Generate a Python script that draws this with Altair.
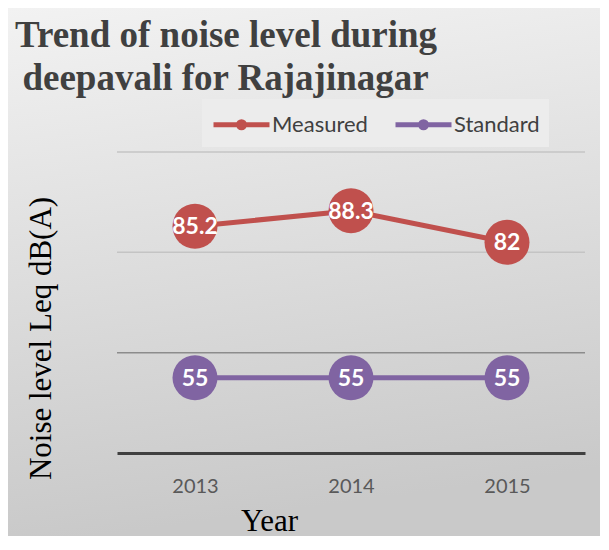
import altair as alt
import pandas as pd

years = ["2013", "2014", "2015"]
measured = [85.2, 88.3, 82]
standard = [55, 55, 55]
series_names = ["Measured", "Standard"]
series_colors = ["#C0504D", "#8064A2"]
gridlines = [60, 80, 100]

rows = []
for y, m, s in zip(years, measured, standard):
    rows.append({"Year": y, "series": "Measured", "value": m})
    rows.append({"Year": y, "series": "Standard", "value": s})
df = pd.DataFrame(rows)
grid_df = pd.DataFrame({"value": gridlines})

W, H = 468, 301
PAD = {"left": 109, "top": 144, "right": 15, "bottom": 83}

x_enc = alt.X("Year:O", scale=alt.Scale(type="point", padding=0.5),
              axis=alt.Axis(title="Year", labelAngle=0, ticks=False, grid=False,
                            domainColor="#404040", domainWidth=3,
                            labelFont="Lato", labelFontSize=20, labelColor="#595959",
                            labelBaseline="alphabetic", labelPadding=39,
                            titleFont="Liberation Serif", titleFontSize=31,
                            titleFontWeight="normal", titleColor="#000000",
                            titleBaseline="alphabetic", titleAlign="center",
                            titleX=152, titleY=77, zindex=1))
y_scale = alt.Scale(domain=[40, 100], nice=False, zero=False)
y_enc = alt.Y("value:Q", scale=y_scale,
              axis=alt.Axis(title="Noise level Leq dB(A)", labels=False, ticks=False,
                            domain=False, grid=False,
                            titleFont="Liberation Serif", titleFontSize=31,
                            titleFontWeight="normal", titleColor="#000000",
                            titleAngle=270, titleBaseline="alphabetic",
                            titleAlign="center", titleX=-67, titleY=186, zindex=1))

# line through a small ring (stroke-only legend symbol)
sym_path = "M-1,0H3M1.214,0A0.214,0.214,0,1,1,0.786,0A0.214,0.214,0,1,1,1.214,0"
color_scale = alt.Scale(domain=series_names, range=series_colors)
legend = alt.Legend(orient="none", legendX=85, legendY=-53, direction="horizontal",
                    title=None, fillColor="#ececec", padding=9,
                    symbolType=sym_path, symbolSize=784, symbolStrokeWidth=5,
                    symbolOpacity=1,
                    labelFont="Lato", labelFontSize=22, labelColor="#404040",
                    labelOffset=28, columnPadding=17, zindex=1)

bg = alt.Chart(alt.Data(values=[{}])).mark_rect(
    color=alt.Gradient(gradient="linear", x1=0, y1=0, x2=0.15, y2=1,
                       stops=[alt.GradientStop(offset=0, color="#f2f2f2"),
                              alt.GradientStop(offset=1, color="#c9c9c9")])
).encode(x=alt.value(-PAD["left"]), x2=alt.value(W + PAD["right"]),
         y=alt.value(-PAD["top"]), y2=alt.value(H + PAD["bottom"]))

grid = alt.Chart(grid_df).mark_rule(strokeWidth=1.5).encode(
    y=alt.Y("value:Q", scale=y_scale),
    color=alt.condition(alt.datum.value == 60, alt.value("#8c8c8c"), alt.value("#c4c4c4")),
)

base = alt.Chart(df)
lines = base.mark_line(strokeWidth=5).encode(
    x=x_enc, y=y_enc,
    color=alt.Color("series:N", scale=color_scale, legend=legend),
)
points = base.mark_circle(size=2025, opacity=1).encode(
    x=x_enc, y=y_enc,
    color=alt.Color("series:N", scale=color_scale, legend=None),
)
labels = base.mark_text(font="Lato", fontSize=23, fontWeight="bold", color="white",
                        align="center", baseline="middle", dy=1).encode(
    x=x_enc, y=y_enc, text=alt.Text("value:Q", format="")
)

chart = alt.layer(bg, grid, lines, points, labels).properties(
    width=W, height=H,
    padding=PAD,
    autosize=alt.AutoSizeParams(type="none"),
    background="white",
    title=alt.Title(["Trend of noise level during", "\u2060\u2009deepavali for Rajajinagar"],
                    font="Liberation Serif", fontSize=37, fontWeight="bold",
                    color="#404040", anchor="start", frame="group",
                    dx=-102, dy=94, lineHeight=43, zindex=1),
).configure_view(stroke=None)

chart.save("out.html", embed_options={"renderer": "svg", "actions": False})
